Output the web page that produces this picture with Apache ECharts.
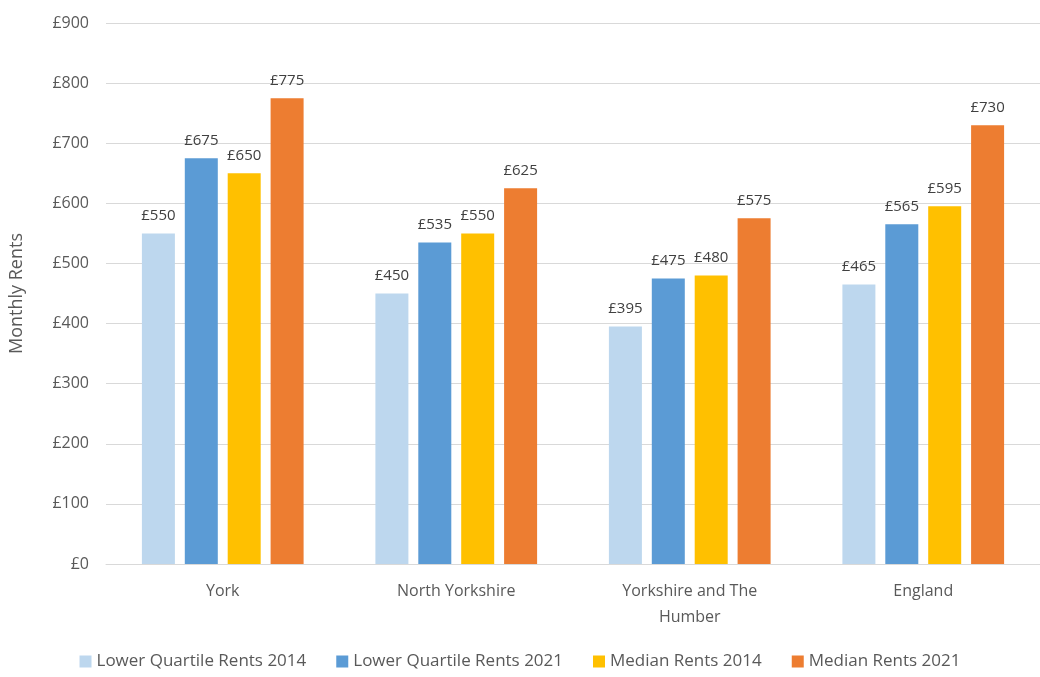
<!DOCTYPE html>
<html>
<head>
<meta charset="utf-8">
<script src="https://cdn.jsdelivr.net/npm/echarts@6/dist/echarts.min.js"></script>
<style>html,body{margin:0;padding:0;background:#fff}#chart{width:1040px;height:677px}</style>
</head>
<body>
<div id="chart"></div>
<script>
var categories = ['York', 'North Yorkshire', 'Yorkshire and The\nHumber', 'England'];
var lq2014 = [550, 450, 395, 465];
var lq2021 = [675, 535, 475, 565];
var med2014 = [650, 550, 480, 595];
var med2021 = [775, 625, 575, 730];
var seriesNames = ['Lower Quartile Rents 2014', 'Lower Quartile Rents 2021', 'Median Rents 2014', 'Median Rents 2021'];
var colors = ['#BDD7EE', '#5B9BD5', '#FFC000', '#ED7D31'];
var font = 'Open Sans';

var chart = echarts.init(document.getElementById('chart'));

function bar(i, data) {
    return {
        name: seriesNames[i], type: 'bar', data: data, barWidth: 33, barGap: '30%',
        itemStyle: { color: colors[i] },
        label: { show: true, position: 'top', distance: 10, formatter: '£{c}', color: '#404040', fontSize: 15, fontFamily: font }
    };
}

chart.setOption({
    animation: false,
    textStyle: { fontFamily: font },
    color: colors,
    grid: { left: 105, right: 0, top: 23, bottom: 113 },
    legend: {
        bottom: 2, left: 'center', itemWidth: 12, itemHeight: 12, itemGap: 30, icon: 'rect',
        textStyle: { color: '#595959', fontSize: 17, fontFamily: font },
        data: seriesNames
    },
    xAxis: {
        type: 'category', data: categories,
        axisLine: { lineStyle: { color: '#D9D9D9' } },
        axisTick: { show: false },
        axisLabel: { color: '#595959', fontSize: 16, margin: 14, lineHeight: 26, fontFamily: font }
    },
    yAxis: {
        type: 'value', min: 0, max: 900, interval: 100,
        name: 'Monthly Rents', nameLocation: 'middle', nameGap: 80, nameRotate: 90,
        nameTextStyle: { color: '#595959', fontSize: 18, fontFamily: font },
        axisLabel: { formatter: '£{value}', color: '#595959', fontSize: 16, margin: 17, fontFamily: font },
        splitLine: { lineStyle: { color: '#D9D9D9' } },
        axisLine: { show: false }, axisTick: { show: false }
    },
    series: [bar(0, lq2014), bar(1, lq2021), bar(2, med2014), bar(3, med2021)]
});
</script>
</body>
</html>
